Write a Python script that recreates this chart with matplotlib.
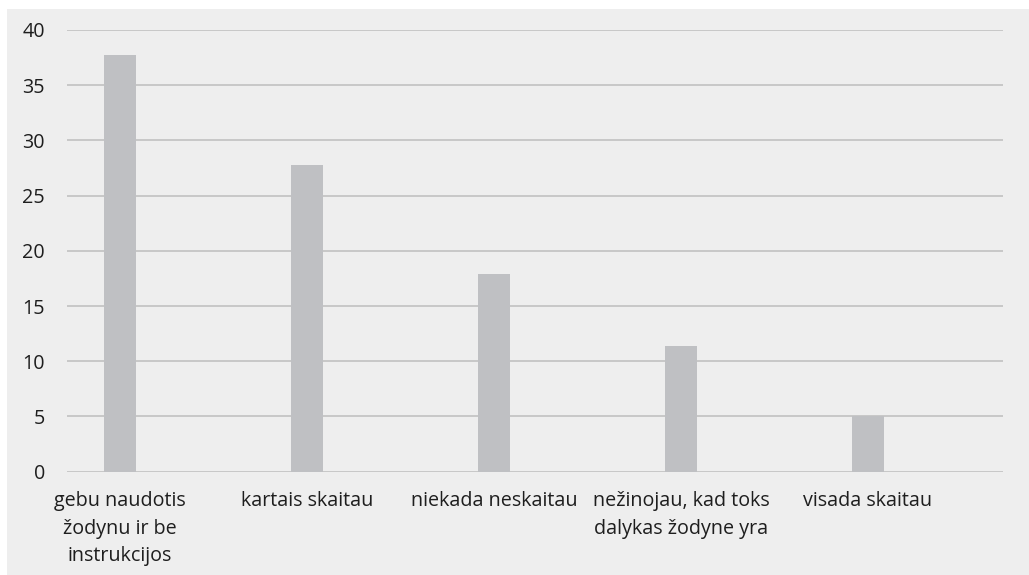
import numpy as np
import matplotlib.pyplot as plt
from matplotlib.patches import Rectangle

# data
categories = ['gebu naudotis\nžodynu ir be\ninstrukcijos', 'kartais skaitau',
              'niekada neskaitau', 'nežinojau, kad toks\ndalykas žodyne yra',
              'visada skaitau']
values = [37.7, 27.8, 17.9, 11.4, 5.0]
yticks = [0, 5, 10, 15, 20, 25, 30, 35, 40]

plt.rcParams['font.family'] = ['Open Sans', 'DejaVu Sans']

W, H = 1029, 575
fig = plt.figure(figsize=(W / 100, H / 100), dpi=100, facecolor='white')
# gray panel behind the chart
fig.add_artist(Rectangle((7 / W, 0), 1 - 7 / W, 1 - 9 / H, transform=fig.transFigure,
                         facecolor='#eeeeee', edgecolor='none', zorder=-5))

ax = fig.add_axes([67 / W, 1 - 471.7 / H, (1003 - 67) / W, (471.7 - 30) / H])
ax.set_facecolor('none')

x = np.arange(len(categories))
ax.bar(x, values, width=0.171, color='#bfc0c3', zorder=3)

ax.set_xlim(-0.283, 4.722)
ax.set_ylim(0, 40)
ax.set_yticks(yticks)
ax.set_xticks(x)
ax.set_xticklabels(categories, fontsize=14.2, color='#1e1e1e', linespacing=1.5)
ax.tick_params(axis='y', labelsize=14.2, labelcolor='#1e1e1e', length=0, pad=16)
ax.tick_params(axis='x', length=0, pad=14)
ax.yaxis.grid(True, color='#c4c4c4', lw=1.3, zorder=1)
for s in ax.spines.values():
    s.set_visible(False)

plt.savefig('out.png', dpi=100, facecolor=fig.get_facecolor())
